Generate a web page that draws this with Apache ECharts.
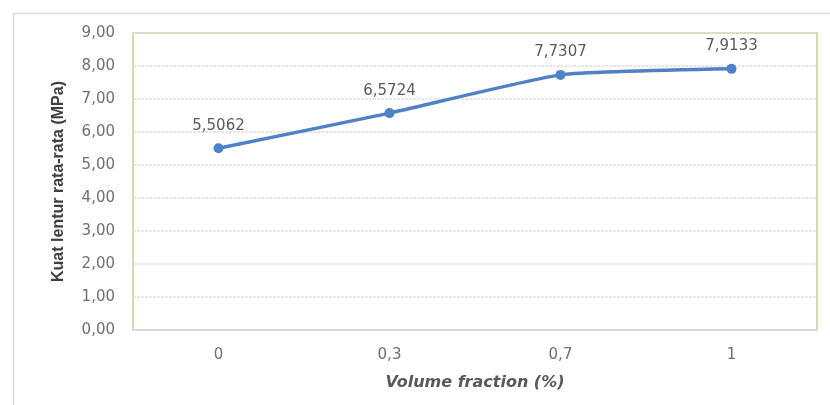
<!DOCTYPE html>
<html>
<head>
<meta charset="utf-8">
<script src="https://cdn.jsdelivr.net/npm/echarts@6/dist/echarts.min.js"></script>
<style>
  html, body { margin: 0; padding: 0; background: #fff; }
  #chart { width: 830px; height: 405px; }
</style>
</head>
<body>
<div id="chart"></div>
<script>
// Flexural strength vs. fibre volume fraction
const categories = ['0', '0,3', '0,7', '1'];
const strength = [5.5062, 6.5724, 7.7307, 7.9133];
const yMin = 0, yMax = 9, yStep = 1;

const fmtComma = (v, d) => v.toFixed(d).replace('.', ',');
const font = '"DejaVu Sans", "Open Sans", sans-serif';

const chart = echarts.init(document.getElementById('chart'), null, { renderer: 'canvas' });
chart.setOption({
  animation: false,
  backgroundColor: '#fff',
  graphic: [{
    type: 'rect',
    shape: { x: 13.5, y: 13.5, width: 830, height: 420 },
    style: { fill: 'none', stroke: '#d9d9d9', lineWidth: 1.5 },
    silent: true,
    z: -10
  }],
  grid: {
    left: 133, right: 13, top: 33, bottom: 75,
    show: true, borderColor: '#bcd592', borderWidth: 1.5, backgroundColor: 'transparent'
  },
  xAxis: {
    type: 'category',
    data: categories,
    boundaryGap: true,
    name: 'Volume fraction (%)',
    nameLocation: 'middle',
    nameGap: 45,
    nameTextStyle: { fontFamily: font, fontSize: 16, fontWeight: 'bold', fontStyle: 'italic', color: '#595959' },
    axisLine: { show: true, lineStyle: { color: '#d9d9d9', width: 1.5 } },
    axisTick: { show: false },
    axisLabel: { fontFamily: font, fontSize: 15, color: '#707070', margin: 18 }
  },
  yAxis: {
    type: 'value',
    min: yMin, max: yMax, interval: yStep,
    name: 'Kuat lentur rata-rata (MPa)',
    nameLocation: 'middle',
    nameGap: 66,
    nameTextStyle: { fontFamily: '"Liberation Sans Narrow", "Liberation Sans", sans-serif', fontSize: 16, fontWeight: 'bold', color: '#404040' },
    axisLine: { show: false },
    axisTick: { show: false },
    axisLabel: { fontFamily: font, fontSize: 15, color: '#707070', margin: 18, formatter: v => fmtComma(v, 2) },
    splitLine: { show: true, lineStyle: { color: '#e0e0e0', width: 1.5, type: [3, 1] } }
  },
  series: [{
    type: 'line',
    data: strength,
    smooth: 0.15,
    symbol: 'circle',
    symbolSize: 10,
    lineStyle: { color: '#4f81c7', width: 3.5 },
    itemStyle: { color: '#4f81c7' },
    label: {
      show: true,
      position: 'top',
      distance: 10,
      fontFamily: font,
      fontSize: 15,
      color: '#5a5a5a',
      formatter: p => fmtComma(p.value, 4)
    }
  }]
});
</script>
</body>
</html>
